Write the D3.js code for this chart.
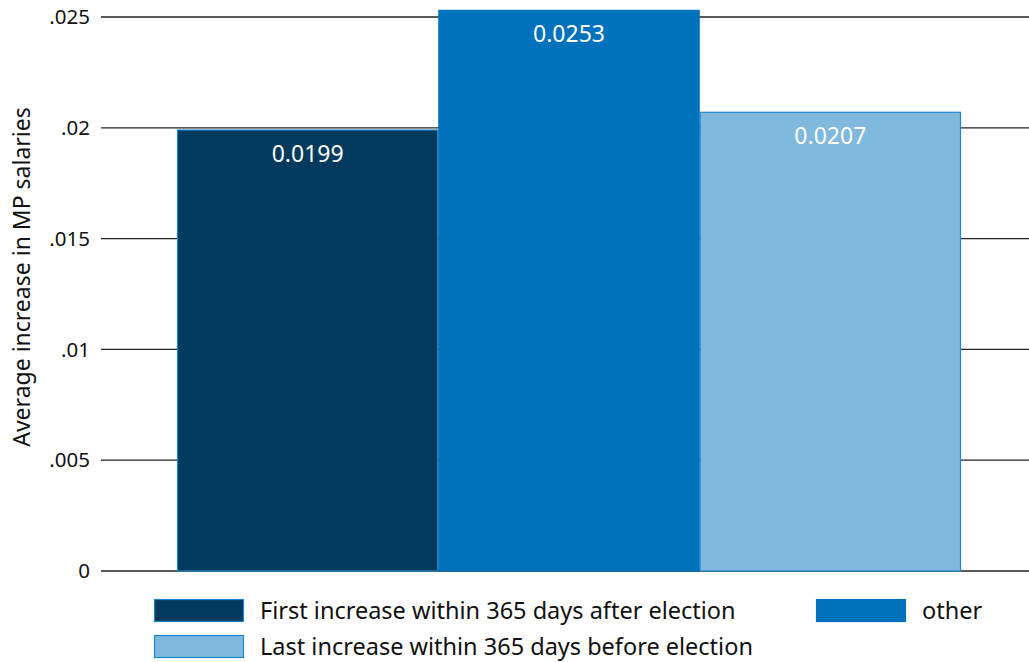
<!DOCTYPE html>
<html>
<head>
<meta charset="utf-8">
<script src="https://cdn.jsdelivr.net/npm/d3@7"></script>
<style>
  body { margin: 0; background: #fff; }
  svg { display: block; font-family: "Noto Sans", sans-serif; }
</style>
</head>
<body>
<svg id="chart"></svg>
<script>
// series, one bar each
const seriesNames = ['First increase within 365 days after election', 'other', 'Last increase within 365 days before election'];
const seriesValues = [0.0199, 0.0253, 0.0207];
const seriesColors = ['#023a5e', '#0072bc', '#80b8de'];
const yTicks = [0, 0.005, 0.01, 0.015, 0.02, 0.025];
const yTickLabels = ['0', '.005', '.01', '.015', '.02', '.025'];
const yTitle = 'Average increase in MP salaries';

let W = 1029, H = 662;
let marg = { top: 17, right: 0, bottom: 91, left: 101 };

const svg = d3.select('#chart')
	.attr('width', W)
	.attr('height', H);

const yScale = d3.scaleLinear()
	.domain([0, 0.025])
	.range([H - marg.bottom, marg.top]);

// bars sit in the middle, a bit narrower than the whole plot
const xScale = d3.scaleBand()
	.domain(seriesNames)
	.range([177, 961])
	.paddingInner(0);

// gridlines
svg.append('g')
	.selectAll('line')
	.data(yTicks)
	.enter()
	.append('line')
	.attr('x1', marg.left)
	.attr('x2', W - marg.right)
	.attr('y1', d => yScale(d))
	.attr('y2', d => yScale(d))
	.attr('stroke', '#222')
	.attr('stroke-width', 1.3);

// tick labels
svg.append('g')
	.selectAll('text')
	.data(yTicks)
	.enter()
	.append('text')
	.attr('x', 90)
	.attr('y', d => yScale(d))
	.attr('dy', '0.35em')
	.attr('text-anchor', 'end')
	.attr('font-size', 20.5)
	.attr('fill', '#111')
	.text((d, i) => yTickLabels[i]);

svg.append('text')
	.attr('transform', 'translate(30,' + 277 + ') rotate(-90)')
	.attr('text-anchor', 'middle')
	.attr('font-size', 23)
	.attr('fill', '#111')
	.text(yTitle);

// bars
svg.append('g')
	.selectAll('rect')
	.data(seriesValues)
	.enter()
	.append('rect')
	.attr('x', (d, i) => xScale(seriesNames[i]) + 0.5)
	.attr('y', d => yScale(d))
	.attr('width', xScale.bandwidth() - 1)
	.attr('height', d => yScale(0) - yScale(d))
	.attr('fill', (d, i) => seriesColors[i])
	.attr('stroke', (d, i) => i == 1 ? seriesColors[1] : '#1f86cc')
	.attr('stroke-width', 1.2);

// value labels
svg.append('g')
	.selectAll('text')
	.data(seriesValues)
	.enter()
	.append('text')
	.attr('x', (d, i) => xScale(seriesNames[i]) + xScale.bandwidth() / 2)
	.attr('y', d => yScale(d) + 32)
	.attr('text-anchor', 'middle')
	.attr('font-size', 23)
	.attr('fill', '#fff')
	.text(d => d.toFixed(4));

// legend: two columns, the third item wraps under the first
const legendPos = [[154, 599], [816, 599], [154, 635]];
const lg = svg.append('g')
	.selectAll('g')
	.data(seriesNames)
	.enter()
	.append('g')
	.attr('transform', (d, i) => 'translate(' + legendPos[i][0] + ',' + legendPos[i][1] + ')');

lg.append('rect')
	.attr('x', 0.5)
	.attr('y', 0.5)
	.attr('width', 89)
	.attr('height', 22)
	.attr('fill', (d, i) => seriesColors[i])
	.attr('stroke', (d, i) => i == 1 ? seriesColors[1] : '#1f86cc')
	.attr('stroke-width', 1.2);

lg.append('text')
	.attr('x', 106)
	.attr('y', 11.5)
	.attr('dy', '0.36em')
	.attr('font-size', 23.5)
	.attr('fill', '#111')
	.text(d => d);
</script>
</body>
</html>
